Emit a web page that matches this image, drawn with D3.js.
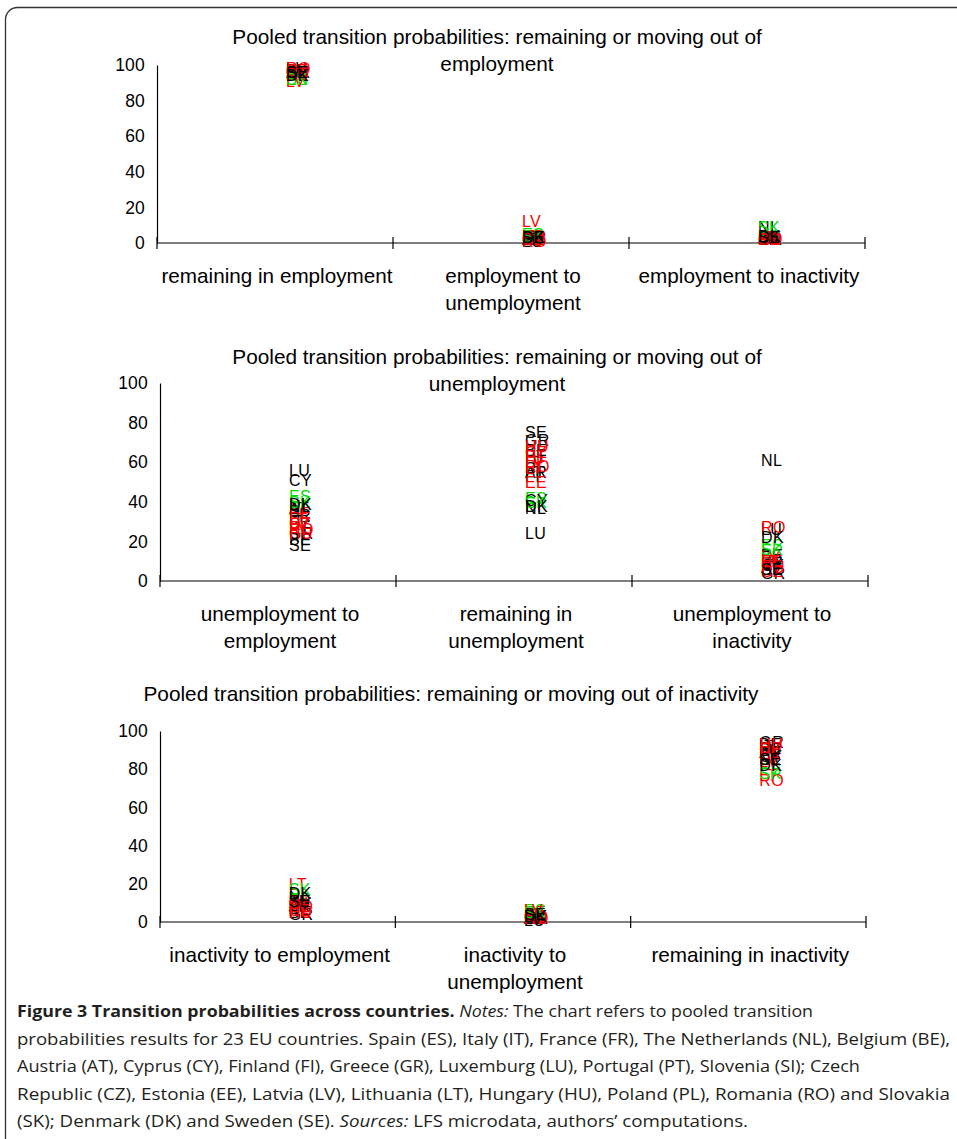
<!DOCTYPE html>
<html><head><meta charset="utf-8">
<script src="https://cdnjs.cloudflare.com/ajax/libs/d3/7.8.5/d3.min.js"></script>
<style>
body{margin:0;background:#fff;}
svg text{font-family:"Liberation Sans",Arial,sans-serif;}
svg text.cap{font-family:"Open Sans",sans-serif;}
</style></head><body>
<svg id="c" width="957" height="1139"></svg>
<script>
// ---------------- data ----------------
const countries = ["ES","IT","FR","NL","BE","AT","CY","FI","GR","LU","PT","SI","CZ","EE","LV","LT","HU","PL","RO","SK","DK","SE"];
const countryGroup = ["g","b","b","b","b","b","b","b","b","b","b","b","r","r","r","r","r","r","r","g","b","b"];
const groupColors = {b:"#000000", r:"#ff0000", g:"#00dd00"};

const titles = [
  ["Pooled transition probabilities: remaining or moving out of","employment"],
  ["Pooled transition probabilities: remaining or moving out of","unemployment"],
  ["Pooled transition probabilities: remaining or moving out of inactivity"]
];
const categories = [
  [["remaining in employment"],["employment to","unemployment"],["employment to inactivity"]],
  [["unemployment to","employment"],["remaining in","unemployment"],["unemployment to","inactivity"]],
  [["inactivity to employment"],["inactivity to","unemployment"],["remaining in inactivity"]]
];
const yTicks = [0,20,40,60,80,100];

// employment panel (ES..SE)
const empRemain    = [92,96,96,94,97,96,96,95,96,98,95,97,97,95,91,95,96,95,98,92,94,96];
const empToUnemp   = [5,3,3,2,2,2,2,4,3,1,4,3,2,4,12,4,3,4,1,4,3,3];
const empToInact   = [4,3,3,9,3,3,3,3,2,2,3,2,2,3,3,3,2,3,2,9,4,3];
// unemployment panel
const unempToEmp   = [43,30,33,38,21,37,51,34,24,56,27,35,29,34,28,31,24,27,26,40,39,18];
const unempRemain  = [42,60,55,37,66,55,41,53,71,24,63,57,65,50,60,57,68,63,58,40,38,75];
const unempToInact = [18,8,10,61,13,7,8,12,4,26,9,6,5,10,12,10,7,9,27,16,22,6];
// inactivity panel
const inactToEmp   = [12,6,8,13,5,9,10,11,4,9,8,7,6,11,10,20,5,7,8,17,15,11];
const inactToUnemp = [6,2,3,2,2,2,3,4,2,1,3,2,3,5,6,4,2,4,2,5,3,4];
const inactRemain  = [80,92,89,85,93,89,87,86,94,90,89,91,91,85,84,77,93,89,74,78,82,85];

const panelSeries = [
  [empRemain, empToUnemp, empToInact],
  [unempToEmp, unempRemain, unempToInact],
  [inactToEmp, inactToUnemp, inactRemain]
];

// ---------------- layout ----------------
const svg = d3.select("#c");
svg.append("rect").attr("x",5.5).attr("y",7.5).attr("width",970).attr("height",1150)
  .attr("rx",12).attr("fill","none").attr("stroke","#333").attr("stroke-width",1.3);

const panels = [
  {x0:157, x1:865, yTop:65,  yZero:243, titleY:[44,71]},
  {x0:160, x1:868, yTop:383, yZero:581, titleY:[364,391]},
  {x0:160, x1:866, yTop:731, yZero:922, titleY:[701]}
];

panels.forEach((p,pi)=>{
  const g = svg.append("g");
  const x = d3.scaleBand().domain([0,1,2]).range([p.x0,p.x1]);
  const y = d3.scaleLinear().domain([0,100]).range([p.yZero,p.yTop]);
  titles[pi].forEach((t,i)=>{
    g.append("text").attr("x",pi===2?451:497).attr("y",p.titleY[i]).attr("text-anchor","middle")
      .attr("font-size",20.8).attr("fill","#000").text(t);
  });
  // y axis
  const ya = d3.axisLeft(y).tickValues(yTicks).tickSize(0).tickPadding(12);
  const yg = g.append("g").attr("transform",`translate(${p.x0},0)`).call(ya);
  yg.select(".domain").attr("stroke","#000").attr("stroke-width",1.2);
  yg.selectAll("text").attr("font-size",17.5).attr("fill","#000").attr("letter-spacing",0.2);
  // x axis with cross ticks at band boundaries
  g.append("line").attr("x1",p.x0).attr("x2",p.x1).attr("y1",p.yZero).attr("y2",p.yZero)
    .attr("stroke","#000").attr("stroke-width",1.2);
  const bounds = [0,1,2].map(i=>x(i)).concat([p.x1]);
  bounds.forEach(b=>{
    g.append("line").attr("x1",b).attr("x2",b).attr("y1",p.yZero-6).attr("y2",p.yZero+6)
      .attr("stroke","#000").attr("stroke-width",1.2);
  });
  categories[pi].forEach((lines,ci)=>{
    lines.forEach((l,li)=>{
      g.append("text").attr("x",x(ci)+x.bandwidth()/2+2).attr("y",p.yZero+40+li*27)
        .attr("text-anchor","middle").attr("font-size",20.7)
        .attr("fill","#000").text(l);
    });
  });
  // data labels
  panelSeries[pi].forEach((vals,ci)=>{
    const px = x(ci)+x.bandwidth()/2;
    g.selectAll(null).data(vals.map((v,k)=>({v,k}))).enter().append("text")
      .attr("x",px+11).attr("y",d=>y(d.v)).attr("dy","0.36em")
      .attr("font-size",16).attr("letter-spacing",0.4).attr("fill",d=>groupColors[countryGroup[d.k]])
      .text(d=>countries[d.k]);
  });
});

// ---------------- caption ----------------
const cap = svg.append("g").attr("fill","#231f20");
const capLines = [
  {w:796, parts:[["Figure 3 Transition probabilities across countries.","bold"],[" ",""],["Notes:","italic"],[" The chart refers to pooled transition",""]]},
  {w:933, parts:[["probabilities results for 23 EU countries. Spain (ES), Italy (IT), France (FR), The Netherlands (NL), Belgium (BE),",""]]},
  {w:843, parts:[["Austria (AT), Cyprus (CY), Finland (FI), Greece (GR), Luxemburg (LU), Portugal (PT), Slovenia (SI); Czech",""]]},
  {w:933, parts:[["Republic (CZ), Estonia (EE), Latvia (LV), Lithuania (LT), Hungary (HU), Poland (PL), Romania (RO) and Slovakia",""]]},
  {w:731, parts:[["(SK); Denmark (DK) and Sweden (SE). ",""],["Sources:","italic"],[" LFS microdata, authors\u2019 computations.",""]]}
];
capLines.forEach((L,i)=>{
  const t = cap.append("text").attr("class","cap").attr("x",17).attr("y",1017+i*27.5)
    .attr("font-size",16.5)
    .attr("textLength",L.w).attr("lengthAdjust","spacingAndGlyphs").style("white-space","pre");
  L.parts.forEach(([s,st])=>{
    const ts = t.append("tspan").text(s);
    if(st==="bold") ts.attr("font-weight","bold");
    if(st==="italic") ts.attr("font-style","italic");
  });
});
</script>
</body></html>
